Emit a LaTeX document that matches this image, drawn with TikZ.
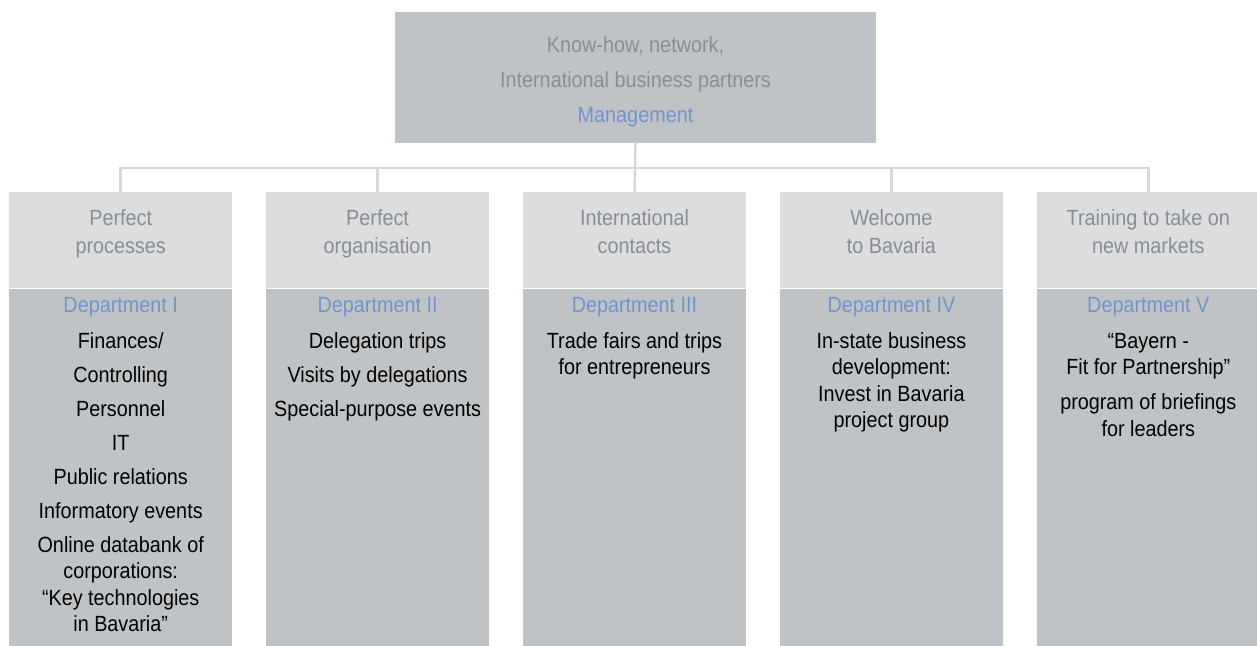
\documentclass[tikz,border=0pt]{standalone}
\usepackage{fontspec}
\setmainfont{Liberation Sans}[FakeStretch=0.9]
\usetikzlibrary{positioning}

\definecolor{boxdark}{HTML}{C0C3C6}
\definecolor{boxlight}{HTML}{DCDDDF}
\definecolor{textgray}{HTML}{898E93}
\definecolor{deptblue}{HTML}{6F95CC}
\definecolor{linegray}{HTML}{D5D7D9}

\tikzset{
  mgmt/.style={fill=boxdark, minimum width=481pt, minimum height=131pt, inner sep=0pt},
  mgmttxt/.style={text=textgray, inner sep=0pt, align=center, font=\fontsize{22}{35}\selectfont},
  head/.style={fill=boxlight, minimum width=223pt, minimum height=96pt, inner sep=0pt},
  body/.style={fill=boxdark, minimum width=223pt, minimum height=357pt, inner sep=0pt},
  headtxt/.style={anchor=north, text=textgray, inner sep=0pt, align=center, font=\fontsize{22}{28.5}\selectfont},
  bodytxt/.style={anchor=north, inner sep=0pt, align=center, font=\fontsize{22}{26.5}\selectfont},
  conn/.style={draw=linegray, line width=2.5pt},
}
\newcommand{\deptname}[1]{\textcolor{deptblue}{#1}}

\begin{document}
\begin{tikzpicture}[x=1pt,y=-1pt,node distance=33.5pt]
   \useasboundingbox (0,0) rectangle (1257,645);

   \node[mgmt]                         (M)   at (635.5,77.5) {} ; %
   \node[mgmttxt]                      (MT)  at ([yshift=-4pt]M.center)
      {Know-how, network,\\International business partners\\\deptname{Management}} ; %

   \node[head, anchor=north west]      (H1)  at (9,192) {} ; %
   \node[head, right=of H1]            (H2)  {} ; %
   \node[head, right=of H2]            (H3)  {} ; %
   \node[head, right=of H3]            (H4)  {} ; %
   \node[head, right=of H4]            (H5)  {} ; %

   \node[body, below=0pt of H1]        (B1)  {} ; %
   \node[body, below=0pt of H2]        (B2)  {} ; %
   \node[body, below=0pt of H3]        (B3)  {} ; %
   \node[body, below=0pt of H4]        (B4)  {} ; %
   \node[body, below=0pt of H5]        (B5)  {} ; %

   % headings
   \node[headtxt] (T1) at ([yshift=-17pt]H1.north) {Perfect\\processes} ;
   \node[headtxt] (T2) at ([yshift=-17pt]H2.north) {Perfect\\organisation} ;
   \node[headtxt] (T3) at ([yshift=-17pt]H3.north) {International\\contacts} ;
   \node[headtxt] (T4) at ([yshift=-17pt]H4.north) {Welcome\\to Bavaria} ;
   \node[headtxt] (T5) at ([yshift=-17pt]H5.north) {Training to take on\\new markets} ;

   % departments
   \node[bodytxt] (D1) at ([yshift=-9pt]B1.north)
      {\deptname{Department I}\\[9pt]Finances/\\[7.5pt]Controlling\\[7.5pt]Personnel\\[7.5pt]IT\\[7.5pt]%
       Public relations\\[7.5pt]Informatory events\\[7.5pt]Online databank of\\corporations:\\%
       “Key technologies\\in Bavaria”} ;
   \node[bodytxt] (D2) at ([yshift=-9pt]B2.north)
      {\deptname{Department II}\\[9pt]Delegation trips\\[7.5pt]Visits by delegations\\[7.5pt]%
       Special-purpose events} ;
   \node[bodytxt] (D3) at ([yshift=-9pt]B3.north)
      {\deptname{Department III}\\[9pt]Trade fairs and trips\\for entrepreneurs} ;
   \node[bodytxt] (D4) at ([yshift=-9pt]B4.north)
      {\deptname{Department IV}\\[9pt]In-state business\\development:\\Invest in Bavaria\\project group} ;
   \node[bodytxt] (D5) at ([yshift=-9pt]B5.north)
      {\deptname{Department V}\\[9pt]“Bayern -\\Fit for Partnership”\\[8.5pt]program of briefings\\for leaders} ;

   % connectors
   \coordinate (bus) at (635,168) ;
   \draw[conn] (M.south) -- (H3.north) ;
   \foreach \i in {1,2,4,5}
      \draw[conn] (bus) -| (H\i.north) ;

\end{tikzpicture}
\end{document}
